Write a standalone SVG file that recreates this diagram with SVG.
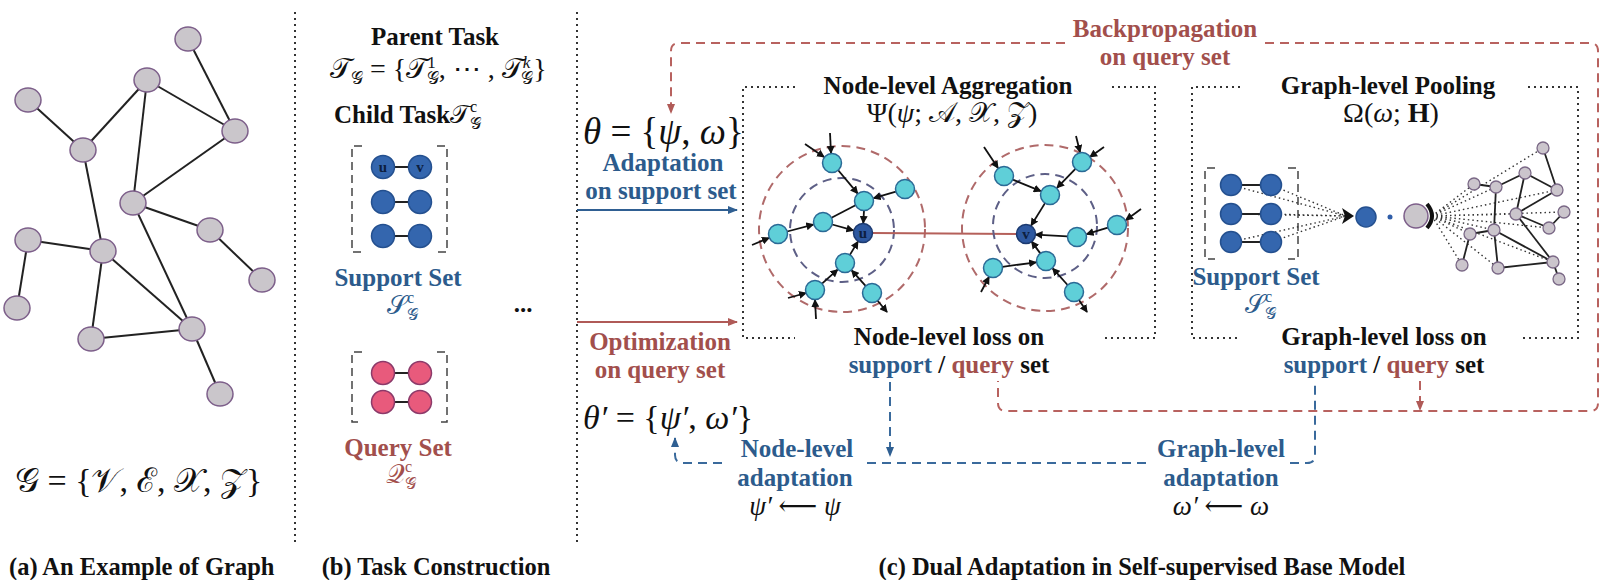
<svg xmlns="http://www.w3.org/2000/svg" width="1623" height="580" viewBox="0 0 1623 580">
<defs>
<style>
.lbl{font-family:'Liberation Serif','Times New Roman',serif;font-weight:bold;font-size:25px;fill:#111}
.cap{font-family:'Liberation Serif','Times New Roman',serif;font-weight:bold;font-size:24.5px;fill:#111}
.blue{fill:#2c5b8c}
.red{fill:#a24f4c}
.math{font-family:'Liberation Serif','DejaVu Serif','Noto Sans',serif;fill:#111}
.it{font-style:italic}
.gnode{fill:#cac6cb;stroke:#7d5f8a;stroke-width:1.5}
.gedge{stroke:#222;stroke-width:2}
.div{stroke:#333;stroke-width:2;stroke-dasharray:2 4;fill:none}
.box{stroke:#333;stroke-width:2;stroke-dasharray:2 4;fill:none}
.snode{fill:#3466ae;stroke:#24508f;stroke-width:1.5}
.qnode{fill:#e85a7c;stroke:#8c3a6a;stroke-width:1.5}
.pair{stroke:#222;stroke-width:2}
.brk{stroke:#444;stroke-width:1.5;stroke-dasharray:8 5;fill:none}
.cnode{fill:#5fcfd8;stroke:#2b6a96;stroke-width:1.5}
.unode{fill:#2d58a0;stroke:#1c3a70;stroke-width:1.5}
.ring1{fill:none;stroke:#b06a6a;stroke-width:2;stroke-dasharray:9 6}
.ring2{fill:none;stroke:#5d5f86;stroke-width:2;stroke-dasharray:9 6}
.cedge{stroke:#111;stroke-width:1.8;marker-end:url(#ab)}
.line{stroke:#111;stroke-width:1.8}
.redd{stroke:#b8625f;stroke-width:2;stroke-dasharray:9 6;fill:none}
.blued{stroke:#3a6a9c;stroke-width:2;stroke-dasharray:9 6;fill:none}
.dot{stroke:#333;stroke-width:1.4;stroke-dasharray:1.5 3;fill:none}
.small{fill:#cbc5cc;stroke:#7a6886;stroke-width:1.3}
.uv{font-family:'Liberation Serif',serif;font-weight:bold;font-size:15px;fill:#0d1f40}
</style>
<marker id="ab" markerWidth="8" markerHeight="8" refX="7" refY="4" orient="auto" markerUnits="userSpaceOnUse"><path d="M0,0 L8,4 L0,8 z" fill="#111"/></marker>
<marker id="abl" markerWidth="10" markerHeight="10" refX="9" refY="5" orient="auto" markerUnits="userSpaceOnUse"><path d="M0,1 L10,5 L0,9 z" fill="#2f5f92"/></marker>
<marker id="ard" markerWidth="10" markerHeight="10" refX="9" refY="5" orient="auto" markerUnits="userSpaceOnUse"><path d="M0,1 L10,5 L0,9 z" fill="#b05a57"/></marker>
</defs>
<rect width="1623" height="580" fill="#fff"/>

<!-- Panel (a) -->
<g id="panel-a">
  <g id="graph-a-edges">
    <line class="gedge" x1="188" y1="39" x2="235" y2="131"/>
    <line class="gedge" x1="147" y1="80" x2="235" y2="131"/>
    <line class="gedge" x1="147" y1="80" x2="83" y2="150"/>
    <line class="gedge" x1="147" y1="80" x2="133" y2="203"/>
    <line class="gedge" x1="28" y1="100" x2="83" y2="150"/>
    <line class="gedge" x1="235" y1="131" x2="133" y2="203"/>
    <line class="gedge" x1="83" y1="150" x2="103" y2="251"/>
    <line class="gedge" x1="133" y1="203" x2="210" y2="230"/>
    <line class="gedge" x1="133" y1="203" x2="192" y2="329"/>
    <line class="gedge" x1="210" y1="230" x2="262" y2="280"/>
    <line class="gedge" x1="28" y1="240" x2="103" y2="251"/>
    <line class="gedge" x1="28" y1="240" x2="17" y2="308"/>
    <line class="gedge" x1="103" y1="251" x2="192" y2="329"/>
    <line class="gedge" x1="103" y1="251" x2="91" y2="339"/>
    <line class="gedge" x1="91" y1="339" x2="192" y2="329"/>
    <line class="gedge" x1="192" y1="329" x2="220" y2="394"/>
  </g>
  <g id="graph-a-nodes">
    <ellipse class="gnode" cx="188" cy="39" rx="13" ry="12"/>
    <ellipse class="gnode" cx="147" cy="80" rx="13" ry="12"/>
    <ellipse class="gnode" cx="28" cy="100" rx="13" ry="12"/>
    <ellipse class="gnode" cx="235" cy="131" rx="13" ry="12"/>
    <ellipse class="gnode" cx="83" cy="150" rx="13" ry="12"/>
    <ellipse class="gnode" cx="133" cy="203" rx="13" ry="12"/>
    <ellipse class="gnode" cx="210" cy="230" rx="13" ry="12"/>
    <ellipse class="gnode" cx="28" cy="240" rx="13" ry="12"/>
    <ellipse class="gnode" cx="103" cy="251" rx="13" ry="12"/>
    <ellipse class="gnode" cx="262" cy="280" rx="13" ry="12"/>
    <ellipse class="gnode" cx="17" cy="308" rx="13" ry="12"/>
    <ellipse class="gnode" cx="192" cy="329" rx="13" ry="12"/>
    <ellipse class="gnode" cx="91" cy="339" rx="13" ry="12"/>
    <ellipse class="gnode" cx="220" cy="394" rx="13" ry="12"/>
  </g>
  <text x="15" y="492" class="math" font-size="34">𝒢 = {𝒱, ℰ, 𝒳, 𝒵}</text>
  <text x="9" y="575" class="cap">(a) An Example of Graph</text>
</g>

<!-- Dividers -->
<g id="dividers">
  <line class="div" x1="295" y1="12" x2="295" y2="543"/>
  <line class="div" x1="577" y1="12" x2="577" y2="543"/>
</g>

<!-- Panel (b) -->
<g id="panel-b">
  <text x="435" y="45" class="lbl" text-anchor="middle">Parent Task</text>
  <text x="330" y="78" class="math" font-size="28">𝒯<tspan font-size="17" dy="6">𝒢</tspan><tspan dy="-6"> = {𝒯</tspan><tspan font-size="17" dy="-10">1</tspan><tspan font-size="17" dx="-9" dy="16">𝒢</tspan><tspan dy="-6">, ⋯ , 𝒯</tspan><tspan font-size="17" class="it" dy="-10">k</tspan><tspan font-size="17" dx="-9" dy="16">𝒢</tspan><tspan dy="-6">}</tspan></text>
  <text x="334" y="123" class="lbl">Child Task<tspan class="math" font-size="26" font-weight="normal">𝒯</tspan><tspan class="math" font-size="16" font-weight="normal" dy="-11">c</tspan><tspan class="math" font-size="16" font-weight="normal" dx="-7" dy="17">𝒢</tspan></text>

  <g id="support-set-b">
    <path class="brk" d="M362 146 H352 V252 H362 M437 146 H447 V252 H437"/>
    <line class="pair" x1="383" y1="167" x2="420" y2="167"/>
    <line class="pair" x1="383" y1="202" x2="420" y2="202"/>
    <line class="pair" x1="383" y1="236" x2="420" y2="236"/>
    <circle class="snode" cx="383" cy="167" r="11.5"/>
    <circle class="snode" cx="420" cy="167" r="11.5"/>
    <circle class="snode" cx="383" cy="202" r="11.5"/>
    <circle class="snode" cx="420" cy="202" r="11.5"/>
    <circle class="snode" cx="383" cy="236" r="11.5"/>
    <circle class="snode" cx="420" cy="236" r="11.5"/>
    <text x="383" y="172" class="uv" text-anchor="middle">u</text>
    <text x="420" y="172" class="uv" text-anchor="middle">v</text>
    <text x="398" y="286" class="lbl blue" text-anchor="middle">Support Set</text>
    <text x="387" y="314" class="math" font-size="26" style="fill:#2c5b8c">𝒮<tspan font-size="16" dy="-11">c</tspan><tspan font-size="16" dx="-7" dy="17">𝒢</tspan></text>
  </g>
  <text x="523" y="312" class="lbl" text-anchor="middle">...</text>
  <g id="query-set-b">
    <path class="brk" d="M362 352 H352 V422 H362 M437 352 H447 V422 H437"/>
    <line class="pair" x1="383" y1="373" x2="420" y2="373"/>
    <line class="pair" x1="383" y1="402" x2="420" y2="402"/>
    <circle class="qnode" cx="383" cy="373" r="11.5"/>
    <circle class="qnode" cx="420" cy="373" r="11.5"/>
    <circle class="qnode" cx="383" cy="402" r="11.5"/>
    <circle class="qnode" cx="420" cy="402" r="11.5"/>
    <text x="398" y="456" class="lbl red" text-anchor="middle">Query Set</text>
    <text x="386" y="483" class="math" font-size="26" style="fill:#a24f4c">𝒬<tspan font-size="16" dy="-11">c</tspan><tspan font-size="16" dx="-7" dy="17">𝒢</tspan></text>
  </g>
  <text x="436" y="575" class="cap" text-anchor="middle">(b) Task Construction</text>
</g>

<!-- Panel (c) -->
<g id="panel-c">
  <g id="theta">
    <text x="583" y="144" class="math" font-size="37"><tspan class="it">θ</tspan> = {<tspan class="it">ψ</tspan>, <tspan class="it">ω</tspan>}</text>
    <text x="663" y="171" class="lbl blue" text-anchor="middle">Adaptation</text>
    <text x="661" y="199" class="lbl blue" text-anchor="middle">on support set</text>
  </g>
  <g id="theta-prime">
    <text x="660" y="350" class="lbl red" text-anchor="middle">Optimization</text>
    <text x="660" y="378" class="lbl red" text-anchor="middle">on query set</text>
    <text x="583" y="429" class="math" font-size="34"><tspan class="it">θ′</tspan> = {<tspan class="it">ψ′</tspan>, <tspan class="it">ω′</tspan>}</text>
  </g>

  <g id="node-level-box">
    <path class="box" d="M795 87 H743 V338 H795 M1112 87 H1155 V338 H1103"/>
    <text x="948" y="94" class="lbl" text-anchor="middle">Node-level Aggregation</text>
    <text x="952" y="122" class="math" font-size="28" text-anchor="middle">Ψ(<tspan class="it">ψ</tspan>; 𝒜, 𝒳, 𝒵)</text>
    <text x="949" y="345" class="lbl" text-anchor="middle">Node-level loss on</text>
    <text x="949" y="373" class="lbl" text-anchor="middle"><tspan class="blue">support</tspan> / <tspan class="red">query</tspan> set</text>

    <g id="cluster-u">
      <circle class="ring1" cx="842" cy="229" r="83"/>
      <circle class="ring2" cx="842" cy="230" r="52"/>
      <line x1="873" y1="233" x2="1017" y2="234" stroke="#b5605a" stroke-width="2"/>
      <line class="cedge" x1="838" y1="170" x2="857.6" y2="193.4"/>
      <line class="cedge" x1="895.9" y1="191.7" x2="873.6" y2="198.2"/>
      <line class="cedge" x1="864" y1="210.5" x2="863.3" y2="223"/>
      <line class="line" x1="831.5" y1="217.7" x2="855.5" y2="205.3"/>
      <line class="cedge" x1="832.2" y1="224.5" x2="853.4" y2="230.4"/>
      <line class="cedge" x1="787.2" y1="231.5" x2="813.3" y2="224.6"/>
      <line class="cedge" x1="849.9" y1="254.9" x2="857.9" y2="241.6"/>
      <line class="cedge" x1="822" y1="283.6" x2="837.6" y2="269.7"/>
      <line class="cedge" x1="865.6" y1="285.9" x2="851.7" y2="270.4"/>
      <line class="cedge" x1="830" y1="133" x2="831" y2="153"/>
      <line class="cedge" x1="805" y1="144" x2="824" y2="157"/>
      <line class="cedge" x1="752" y1="245" x2="769" y2="238"/>
      <line class="cedge" x1="788" y1="298" x2="806" y2="293"/>
      <line class="cedge" x1="816" y1="319" x2="815" y2="300"/>
      <line class="cedge" x1="877" y1="300" x2="887" y2="312"/>
      <circle class="cnode" cx="832" cy="163" r="9.5"/>
      <circle class="cnode" cx="905" cy="189" r="9.5"/>
      <circle class="cnode" cx="864" cy="201" r="9.5"/>
      <circle class="cnode" cx="823" cy="222" r="9.5"/>
      <circle class="cnode" cx="778" cy="234" r="9.5"/>
      <circle class="cnode" cx="845" cy="263" r="9.5"/>
      <circle class="cnode" cx="815" cy="290" r="9.5"/>
      <circle class="cnode" cx="872" cy="293" r="9.5"/>
      <circle class="unode" cx="863" cy="233" r="9.5"/>
      <text x="863" y="238" class="uv" text-anchor="middle">u</text>
    </g>

    <g id="cluster-v">
      <circle class="ring1" cx="1045" cy="228" r="83"/>
      <circle class="ring2" cx="1045" cy="226" r="52"/>
      <line class="cedge" x1="1012.8" y1="179.6" x2="1040.8" y2="191.2"/>
      <line class="cedge" x1="1075.4" y1="168.8" x2="1057" y2="187.8"/>
      <line class="cedge" x1="1045" y1="203.1" x2="1031.2" y2="225.5"/>
      <line class="cedge" x1="1107.9" y1="227.7" x2="1086.6" y2="234.1"/>
      <line class="cedge" x1="1067.5" y1="236.4" x2="1035.5" y2="234.6"/>
      <line class="cedge" x1="1040.3" y1="253.4" x2="1031.7" y2="241.6"/>
      <line class="cedge" x1="1002.4" y1="266.8" x2="1036.1" y2="262.3"/>
      <line class="cedge" x1="1067.6" y1="285" x2="1052.7" y2="268.4"/>
      <line class="cedge" x1="984" y1="147" x2="998" y2="168"/>
      <line class="cedge" x1="1076" y1="136" x2="1080" y2="152"/>
      <line class="cedge" x1="1104" y1="147" x2="1090" y2="157"/>
      <line class="cedge" x1="1141" y1="209" x2="1126" y2="220"/>
      <line class="cedge" x1="981" y1="292" x2="989" y2="277"/>
      <line class="cedge" x1="1079" y1="300" x2="1087" y2="312"/>
      <circle class="cnode" cx="1004" cy="176" r="9.5"/>
      <circle class="cnode" cx="1082" cy="162" r="9.5"/>
      <circle class="cnode" cx="1050" cy="195" r="9.5"/>
      <circle class="cnode" cx="1117" cy="225" r="9.5"/>
      <circle class="cnode" cx="1077" cy="237" r="9.5"/>
      <circle class="cnode" cx="1046" cy="261" r="9.5"/>
      <circle class="cnode" cx="993" cy="268" r="9.5"/>
      <circle class="cnode" cx="1074" cy="292" r="9.5"/>
      <circle class="unode" cx="1026" cy="234" r="9.5"/>
      <text x="1026" y="239" class="uv" text-anchor="middle">v</text>
    </g>
  </g>

  <g id="graph-level-box">
    <path class="box" d="M1240 87 H1192 V338 H1240 M1528 87 H1578 V338 H1521"/>
    <text x="1388" y="94" class="lbl" text-anchor="middle">Graph-level Pooling</text>
    <text x="1391" y="122" class="math" font-size="28" text-anchor="middle">Ω(<tspan class="it">ω</tspan>; <tspan font-weight="bold">H</tspan>)</text>
    <text x="1384" y="345" class="lbl" text-anchor="middle">Graph-level loss on</text>
    <text x="1384" y="373" class="lbl" text-anchor="middle"><tspan class="blue">support</tspan> / <tspan class="red">query</tspan> set</text>
    <g id="support-set-c">
      <path class="brk" d="M1215 168 H1205 V259 H1215 M1288 168 H1298 V259 H1288"/>
      <path class="dot" d="M1231 185 L1346 216 M1271 185 L1346 216 M1231 214 L1346 216 M1271 214 L1346 216 M1231 242 L1346 216 M1271 242 L1346 216"/>
      <line class="pair" x1="1231" y1="185" x2="1271" y2="185"/>
      <line class="pair" x1="1231" y1="214" x2="1271" y2="214"/>
      <line class="pair" x1="1231" y1="242" x2="1271" y2="242"/>
      <circle class="snode" cx="1231" cy="185" r="10.5"/>
      <circle class="snode" cx="1271" cy="185" r="10.5"/>
      <circle class="snode" cx="1231" cy="214" r="10.5"/>
      <circle class="snode" cx="1271" cy="214" r="10.5"/>
      <circle class="snode" cx="1231" cy="242" r="10.5"/>
      <circle class="snode" cx="1271" cy="242" r="10.5"/>
      <text x="1256" y="285" class="lbl blue" text-anchor="middle">Support Set</text>
      <text x="1245" y="313" class="math" font-size="26" style="fill:#2c5b8c">𝒮<tspan font-size="16" dy="-11">c</tspan><tspan font-size="16" dx="-7" dy="17">𝒢</tspan></text>
    </g>
    <path d="M1342 208 L1354 216 L1342 224 L1345 216 z" fill="#111"/>
    <circle class="snode" cx="1366" cy="217" r="10"/>
    <circle cx="1390" cy="217" r="2.5" fill="#2f5da8"/>
    <g id="small-graph">
      <path class="dot" d="M1432 216 L1543 148 M1432 216 L1474 184 M1432 216 L1496 187 M1432 216 L1557 190 M1432 216 L1516 214 M1432 216 L1564 212 M1432 216 L1549 228 M1432 216 L1470 234 M1432 216 L1494 230 M1432 216 L1462 265 M1432 216 L1498 268 M1432 216 L1553 262"/>
      <g stroke="#222" stroke-width="1.8">
        <line x1="1543" y1="148" x2="1557" y2="190"/>
        <line x1="1525" y1="173" x2="1496" y2="187"/>
        <line x1="1525" y1="173" x2="1557" y2="190"/>
        <line x1="1525" y1="173" x2="1516" y2="214"/>
        <line x1="1557" y1="190" x2="1516" y2="214"/>
        <line x1="1474" y1="184" x2="1496" y2="187"/>
        <line x1="1496" y1="187" x2="1494" y2="230"/>
        <line x1="1516" y1="214" x2="1549" y2="228"/>
        <line x1="1549" y1="228" x2="1564" y2="212"/>
        <line x1="1516" y1="214" x2="1553" y2="262"/>
        <line x1="1494" y1="230" x2="1553" y2="262"/>
        <line x1="1470" y1="234" x2="1494" y2="230"/>
        <line x1="1470" y1="234" x2="1462" y2="265"/>
        <line x1="1494" y1="230" x2="1498" y2="268"/>
        <line x1="1498" y1="268" x2="1553" y2="262"/>
        <line x1="1553" y1="262" x2="1559" y2="279"/>
      </g>
      <circle class="small" cx="1543" cy="148" r="6"/>
      <circle class="small" cx="1525" cy="173" r="6"/>
      <circle class="small" cx="1474" cy="184" r="6"/>
      <circle class="small" cx="1496" cy="187" r="6"/>
      <circle class="small" cx="1557" cy="190" r="6"/>
      <circle class="small" cx="1516" cy="214" r="6"/>
      <circle class="small" cx="1564" cy="212" r="6"/>
      <circle class="small" cx="1549" cy="228" r="6"/>
      <circle class="small" cx="1470" cy="234" r="6"/>
      <circle class="small" cx="1494" cy="230" r="6"/>
      <circle class="small" cx="1553" cy="262" r="6"/>
      <circle class="small" cx="1462" cy="265" r="6"/>
      <circle class="small" cx="1498" cy="268" r="6"/>
      <circle class="small" cx="1559" cy="279" r="6"/>
    </g>
    <circle class="gnode" cx="1416" cy="216" r="12"/>
    <path d="M1427 204 Q1437 216 1427 228" stroke="#111" stroke-width="4" fill="none"/>
  </g>

  <g id="connectors">
    <line x1="577" y1="210" x2="737" y2="210" stroke="#2f5f92" stroke-width="2" marker-end="url(#abl)"/>
    <line x1="577" y1="322" x2="737" y2="322" stroke="#b05a57" stroke-width="2" marker-end="url(#ard)"/>
    <path class="redd" d="M1065 43 H679 Q671 43 671 51 V113" marker-end="url(#ard)"/>
    <path class="redd" d="M1265 43 H1590 Q1598 43 1598 51 V403 Q1598 411 1590 411 H1006 Q998 411 998 403 V381"/>
    <path class="redd" d="M1420 381 V410" marker-end="url(#ard)"/>
    <path class="blued" d="M890 382 V456" marker-end="url(#abl)"/>
    <path class="blued" d="M722 463 H683 Q675 463 675 455 V438" marker-end="url(#abl)"/>
    <path class="blued" d="M867 463 H1146"/>
    <path class="blued" d="M1290 463 H1307 Q1315 463 1315 455 V382"/>
  </g>

  <g id="backprop-label">
    <text x="1165" y="37" class="lbl red" text-anchor="middle">Backpropagation</text>
    <text x="1165" y="65" class="lbl red" text-anchor="middle">on query set</text>
  </g>
  <g id="node-adapt-label">
    <text x="797" y="457" class="lbl blue" text-anchor="middle">Node-level</text>
    <text x="795" y="486" class="lbl blue" text-anchor="middle">adaptation</text>
    <text x="795" y="515" class="math" font-size="27" text-anchor="middle"><tspan class="it">ψ′</tspan> ⟵ <tspan class="it">ψ</tspan></text>
  </g>
  <g id="graph-adapt-label">
    <text x="1221" y="457" class="lbl blue" text-anchor="middle">Graph-level</text>
    <text x="1221" y="486" class="lbl blue" text-anchor="middle">adaptation</text>
    <text x="1221" y="515" class="math" font-size="27" text-anchor="middle"><tspan class="it">ω′</tspan> ⟵ <tspan class="it">ω</tspan></text>
  </g>
  <text x="1142" y="575" class="cap" text-anchor="middle">(c) Dual Adaptation in Self-supervised Base Model</text>
</g>
</svg>
